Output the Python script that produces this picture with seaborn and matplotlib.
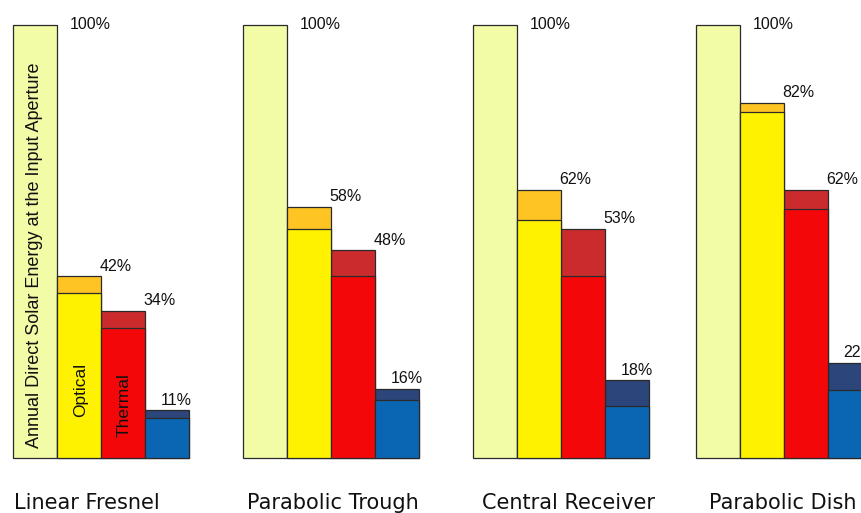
import matplotlib
matplotlib.use("Agg")
import matplotlib.pyplot as plt
import seaborn as sns
import pandas as pd

# Solar-to-electric conversion chain for four CSP technologies
technologies = ["Linear Fresnel", "Parabolic Trough", "Central Receiver", "Parabolic Dish"]
stages = ["Input", "Optical", "Thermal", "Electrical"]

# Energy remaining after each stage (% of direct solar energy at the aperture)
input_pct = [100, 100, 100, 100]
optical_pct = [42, 58, 62, 82]
thermal_pct = [34, 48, 53, 62]
electrical_pct = [11, 16, 18, 22]

# Lower (core) part of each stage bar; the darker cap makes up the rest
optical_core = [38, 53, 55, 80]
thermal_core = [30, 42, 42, 57.4]
electrical_core = [9.2, 13.4, 12.1, 15.7]

cap_colors = {"Input": "#F2FBA6", "Optical": "#FDC423",
              "Thermal": "#CC2B2E", "Electrical": "#2C467B"}
core_colors = {"Optical": "#FEF200", "Thermal": "#F40708", "Electrical": "#0A66B2"}

EDGE = "#2a2a2a"
PX_X = 44.0    # pixels per bar width
PX_Y = 4.33    # pixels per percentage point

# Left edge of each technology group, in bar widths
group_start = [0.0, 230 / PX_X, 460 / PX_X, 683 / PX_X]


def position(g, i):
    return group_start[g] + i + 0.5


totals = [input_pct, optical_pct, thermal_pct, electrical_pct]
cores = {"Optical": optical_core, "Thermal": thermal_core, "Electrical": electrical_core}

rows_total = []
for i, stage in enumerate(stages):
    for g, tech in enumerate(technologies):
        rows_total.append({"x": position(g, i), "value": totals[i][g], "stage": stage})
df_total = pd.DataFrame(rows_total)

rows_core = []
for i, stage in enumerate(stages[1:], start=1):
    for g, tech in enumerate(technologies):
        rows_core.append({"x": position(g, i), "value": cores[stage][g], "stage": stage})
df_core = pd.DataFrame(rows_core)

sns.set_style("white")
fig = plt.figure(figsize=(8.61, 5.13), dpi=100)
ax = fig.add_axes([0, 0, 1, 1])

sns.barplot(data=df_total, x="x", y="value", hue="stage", palette=cap_colors,
            native_scale=True, dodge=False, width=1.0, saturation=1,
            edgecolor=EDGE, linewidth=0.9, legend=False, ax=ax)
sns.barplot(data=df_core, x="x", y="value", hue="stage", palette=core_colors,
            native_scale=True, dodge=False, width=1.0, saturation=1,
            edgecolor=EDGE, linewidth=0.9, legend=False, ax=ax)

ax.set_xlim(-13 / PX_X, -13 / PX_X + 861 / PX_X)
ax.set_ylim(-55 / PX_Y, -55 / PX_Y + 513 / PX_Y)
ax.set_axis_off()

SANS = ["Liberation Sans", "DejaVu Sans"]

# Percentage labels beside the top of each bar (offsets in points)
label_dx = [25, 14.5, 14.5, -4.5]
label_dy = [-3, 4, 4, 4]
for i, stage in enumerate(stages):
    for g in range(len(technologies)):
        v = totals[i][g]
        ax.annotate(f"{v}%", xy=(position(g, i), v), xytext=(label_dx[i], label_dy[i]),
                    textcoords="offset points", ha="left", va="baseline",
                    fontsize=11.5, family=SANS, color="#111111")

# Stage names written inside the first group's bars
ax.text(position(0, 0), 46.9, "Annual Direct Solar Energy at the Input Aperture",
        rotation=90, ha="center", va="center", fontsize=13, family=SANS, color="#111111")
ax.text(position(0, 1) + 0.03, 15.7, "Optical", rotation=90, ha="center", va="center",
        fontsize=12.5, family=SANS, color="#111111")
ax.text(position(0, 2) + 0.03, 12.2, "Thermal", rotation=90, ha="center", va="center",
        fontsize=12.5, family=SANS, color="#111111")

# Technology names under each group
name_shift_px = [-14, 2, 8, -1]
for g, tech in enumerate(technologies):
    cx = group_start[g] + 2 + name_shift_px[g] / PX_X
    ax.text(cx, -11.8, tech, ha="center", va="baseline", fontsize=15,
            family="DejaVu Sans", color="#111111")

fig.savefig("out.png", dpi=100)
